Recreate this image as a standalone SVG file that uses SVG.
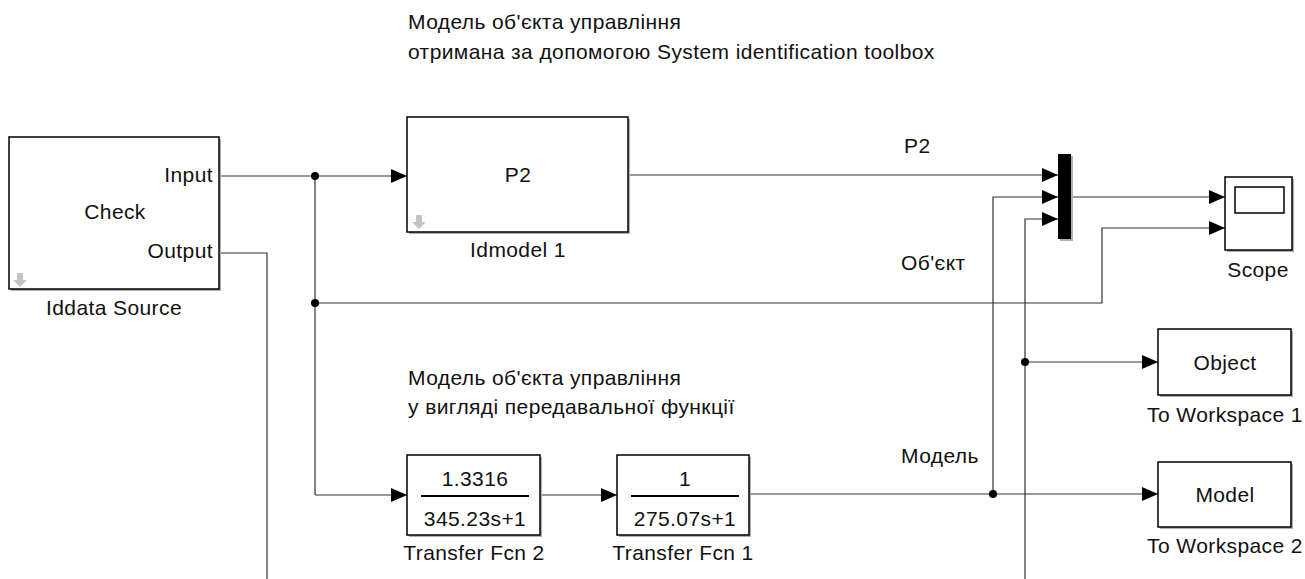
<svg xmlns="http://www.w3.org/2000/svg" width="1305" height="579" viewBox="0 0 1305 579">
<style>
text{font-family:"Liberation Sans",Arial,sans-serif;font-size:21px;letter-spacing:0.4px;fill:#111}
.blk{fill:#fff;stroke:#000;stroke-width:1.5}
.shd{fill:#b0b0b0;stroke:none}
.ln{fill:none;stroke:#333;stroke-width:1.2}
.lna{fill:none;stroke:#333;stroke-width:1.2;marker-end:url(#ah)}
.dot{fill:#000}
.ico{fill:#c4c4c4}
.c{text-anchor:middle}
.r{text-anchor:end}
</style>
<defs>
<marker id="ah" markerUnits="userSpaceOnUse" markerWidth="18" markerHeight="16" refX="17" refY="8" orient="auto">
<path d="M1,1 L17,8 L1,15 Z" fill="#000"/>
</marker>
</defs>
<rect width="1305" height="579" fill="#fff"/>

<g id="annotations">
<text x="408" y="29">Модель об'єкта управління</text>
<text x="408" y="59">отримана за допомогою System identification toolbox</text>
<text x="408" y="385">Модель об'єкта управління</text>
<text x="408" y="414">у вигляді передавальної функції</text>
</g>

<g id="connectors">
<path class="lna" d="M219,176 H407"/>
<path class="ln" d="M315,176 V495"/>
<path class="lna" d="M315,495 H407"/>
<path class="lna" d="M315,303 H1102 V228 H1225"/>
<path class="lna" d="M540,495 H617"/>
<path class="lna" d="M749,494 H1158"/>
<path class="lna" d="M993,494 V197 H1058"/>
<path class="lna" d="M628,175 H1058"/>
<path class="lna" d="M1071,197 H1225"/>
<path class="ln" d="M219,253 H267 V579"/>
<path class="lna" d="M1025,579 V219 H1058"/>
<path class="lna" d="M1025,362 H1158"/>
<circle class="dot" cx="315" cy="176" r="4"/>
<circle class="dot" cx="315" cy="303" r="4"/>
<circle class="dot" cx="993" cy="494" r="4"/>
<circle class="dot" cx="1025" cy="362" r="4"/>
<text x="904" y="153">P2</text>
<text x="901" y="270">Об'єкт</text>
<text x="901" y="463">Модель</text>
</g>

<g id="iddata-source">
<rect class="shd" x="11" y="139" width="210" height="152"/>
<rect class="blk" x="9" y="137" width="210" height="152"/>
<text class="r" x="213" y="182">Input</text>
<text class="c" x="115" y="219">Check</text>
<text class="r" x="213" y="258">Output</text>
<path class="ico" d="M17,273 H23 V280 H27 L20,287 L13,280 H17 Z"/>
<text class="c" x="114" y="315">Iddata Source</text>
</g>

<g id="idmodel-1">
<rect class="shd" x="409" y="119" width="221" height="115"/>
<rect class="blk" x="407" y="117" width="221" height="115"/>
<text class="c" x="518" y="182">P2</text>
<path class="ico" d="M416,215 H422 V222 H426 L419,229 L412,222 H416 Z"/>
<text class="c" x="518" y="257">Idmodel 1</text>
</g>

<g id="mux">
<rect class="shd" x="1060" y="156" width="13" height="85"/>
<rect x="1058" y="154" width="13" height="85" fill="#000"/>
</g>

<g id="scope">
<rect class="shd" x="1227" y="179" width="67" height="73"/>
<rect class="blk" x="1225" y="177" width="67" height="73"/>
<rect x="1235" y="187" width="49" height="26" fill="#fff" stroke="#000" stroke-width="1.5"/>
<text class="c" x="1258" y="277">Scope</text>
</g>

<g id="to-workspace-1">
<rect class="shd" x="1160" y="331" width="133" height="66"/>
<rect class="blk" x="1158" y="329" width="133" height="66"/>
<text class="c" x="1225" y="370">Object</text>
<text class="c" x="1225" y="422">To Workspace 1</text>
</g>

<g id="to-workspace-2">
<rect class="shd" x="1160" y="464" width="133" height="65"/>
<rect class="blk" x="1158" y="462" width="133" height="65"/>
<text class="c" x="1225" y="502">Model</text>
<text class="c" x="1225" y="553">To Workspace 2</text>
</g>

<g id="transfer-fcn-2">
<rect class="shd" x="409" y="457" width="133" height="80"/>
<rect class="blk" x="407" y="455" width="133" height="80"/>
<text class="c" x="475" y="486">1.3316</text>
<line x1="421" y1="496" x2="529" y2="496" stroke="#000" stroke-width="2"/>
<text class="c" x="475" y="526">345.23s+1</text>
<text class="c" x="474" y="560">Transfer Fcn 2</text>
</g>

<g id="transfer-fcn-1">
<rect class="shd" x="619" y="457" width="132" height="80"/>
<rect class="blk" x="617" y="455" width="132" height="80"/>
<text class="c" x="685" y="486">1</text>
<line x1="631" y1="496" x2="739" y2="496" stroke="#000" stroke-width="2"/>
<text class="c" x="685" y="526">275.07s+1</text>
<text class="c" x="683" y="560">Transfer Fcn 1</text>
</g>
</svg>
